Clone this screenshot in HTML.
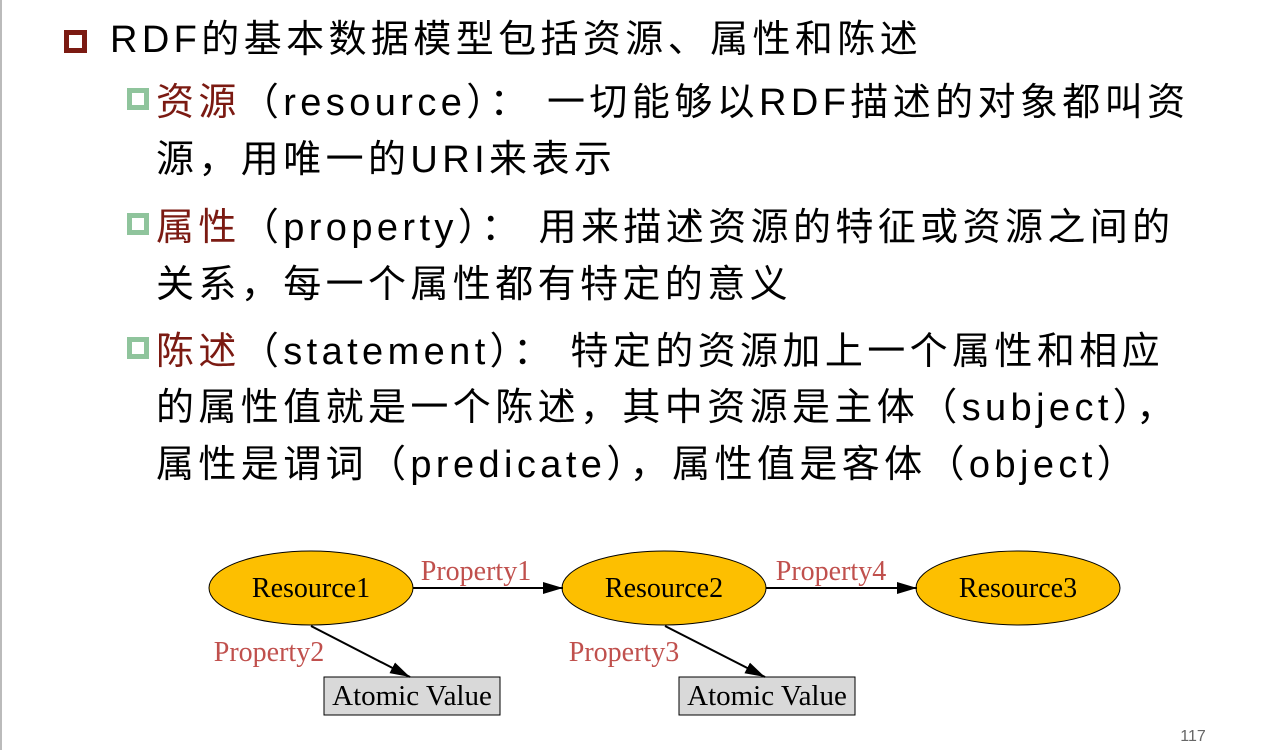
<!DOCTYPE html>
<html><head><meta charset="utf-8"><style>
body{margin:0;width:1282px;height:750px;background:#fff;position:relative;overflow:hidden;font-family:"Liberation Sans","Noto Sans CJK SC",sans-serif;}
.l{position:absolute;font-size:38px;letter-spacing:4.4px;line-height:44px;white-space:nowrap;color:#000;}
.r{color:#7b1a12}
.b1{position:absolute;left:64px;top:30px;width:13px;height:13px;border:5px solid #7b1a12;box-sizing:content-box}
.b2{position:absolute;width:12px;height:12px;border:5px solid #8fc49c}
</style></head><body>
<div style="position:absolute;left:0;top:0;width:2px;height:750px;background:#bbb"></div>
<div class="b1"></div>
<div class="l" style="left:110px;top:18px">RDF的基本数据模型包括资源、属性和陈述</div>
<div class="b2" style="left:127px;top:88px"></div>
<div class="l" style="left:156px;top:81px"><span class="r">资源</span>（resource）： 一切能够以RDF描述的对象都叫资</div>
<div class="l" style="left:156px;top:138px">源，用唯一的URI来表示</div>
<div class="b2" style="left:127px;top:213px"></div>
<div class="l" style="left:156px;top:206px"><span class="r">属性</span>（property）： 用来描述资源的特征或资源之间的</div>
<div class="l" style="left:156px;top:263px">关系，每一个属性都有特定的意义</div>
<div class="b2" style="left:127px;top:337px"></div>
<div class="l" style="left:156px;top:330px"><span class="r">陈述</span>（statement）： 特定的资源加上一个属性和相应</div>
<div class="l" style="left:156px;top:386px">的属性值就是一个陈述，其中资源是主体（subject），</div>
<div class="l" style="left:156px;top:443px">属性是谓词（predicate），属性值是客体（object）</div>
<svg width="1282" height="750" style="position:absolute;left:0;top:0" font-family="Liberation Serif,serif">
<defs><marker id="b" viewBox="0 0 20 12" markerWidth="20" markerHeight="12" refX="20" refY="6" orient="auto" markerUnits="userSpaceOnUse"><path d="M0,0 L20,6 L0,12z" fill="#000"/></marker></defs>
<g stroke="#000" stroke-width="1"><ellipse cx="311" cy="588" rx="102" ry="37" fill="#fdbf00"/>
<ellipse cx="664" cy="588" rx="102" ry="37" fill="#fdbf00"/>
<ellipse cx="1018" cy="588" rx="102" ry="37" fill="#fdbf00"/>
<rect x="324" y="677" width="176" height="38" fill="#d9d9d9"/>
<rect x="679" y="677" width="176" height="38" fill="#d9d9d9"/></g>
<g stroke="#000" stroke-width="2"><line x1="413" y1="588" x2="563" y2="588" marker-end="url(#b)"/>
<line x1="766" y1="588" x2="917" y2="588" marker-end="url(#b)"/>
<line x1="311" y1="626" x2="410" y2="677" marker-end="url(#b)"/>
<line x1="665" y1="626" x2="765" y2="677" marker-end="url(#b)"/></g>
<g font-size="28" text-anchor="middle" fill="#000"><text x="311" y="597">Resource1</text><text x="664" y="597">Resource2</text><text x="1018" y="597">Resource3</text>
<text x="412" y="705" font-size="29">Atomic Value</text><text x="767" y="705" font-size="29">Atomic Value</text></g>
<g font-size="28" fill="#c0504d" text-anchor="middle"><text x="476" y="580">Property1</text><text x="831" y="580">Property4</text><text x="269" y="661">Property2</text><text x="624" y="661">Property3</text></g>
<text x="1193" y="741" font-family="Liberation Sans,sans-serif" font-size="16" fill="#666" text-anchor="middle">117</text>
</svg>
</body></html>
